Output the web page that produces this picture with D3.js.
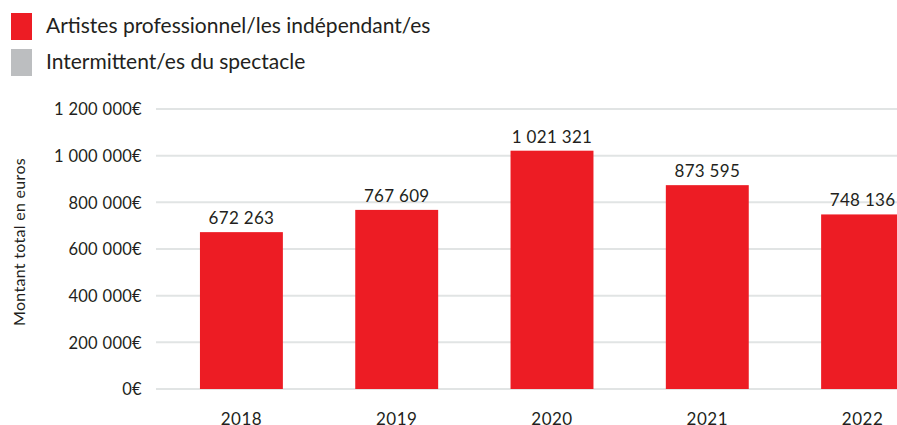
<!DOCTYPE html>
<html>
<head>
<meta charset="utf-8">
<title>Montant total</title>
<script src="https://d3js.org/d3.v7.min.js"></script>
<style>
  body { margin: 0; background: #fff; }
  text { font-family: "Lato", "Noto Sans", sans-serif; fill: #231f20; }
</style>
</head>
<body>
<svg width="897" height="425"></svg>
<script>
  // données
  var years = ["2018", "2019", "2020", "2021", "2022"];
  var artistes = [672263, 767609, 1021321, 873595, 748136];
  var yTicks = [0, 200000, 400000, 600000, 800000, 1000000, 1200000];
  var seriesNames = ["Artistes professionnel/les indépendant/es", "Intermittent/es du spectacle"];
  var seriesColors = ["#ed1c24", "#bcbec0"];

  var svg = d3.select("svg");

  var fmt = function (v) {
    return d3.format(",")(v).replace(/,/g, " ");
  };

  var y = d3.scaleLinear().domain([0, 1200000]).range([389, 109]);
  var x = d3.scaleBand().domain(years).range([156, 948])
    .paddingInner(0.466).paddingOuter(0.283);

  // grille
  svg.append("g").selectAll("line")
    .data(yTicks)
    .enter().append("line")
    .attr("x1", 156).attr("x2", 948)
    .attr("y1", function (d) { return y(d); })
    .attr("y2", function (d) { return y(d); })
    .style("stroke", "#e1e4e4")
    .style("stroke-width", 2);

  // axe y
  var yAxis = svg.append("g")
    .attr("transform", "translate(142,0)")
    .call(d3.axisLeft(y).tickValues(yTicks).tickSize(0).tickPadding(0)
      .tickFormat(function (d) { return fmt(d) + "€"; }));
  yAxis.select(".domain").remove();
  yAxis.selectAll("text").style("font-size", "16.5px").style("letter-spacing", "0.3px").attr("dy", "0.35em");

  // axe x
  var xAxis = svg.append("g")
    .attr("transform", "translate(0,389)")
    .call(d3.axisBottom(x).tickSize(0).tickPadding(0));
  xAxis.select(".domain").remove();
  xAxis.selectAll("text").style("font-size", "17px").style("letter-spacing", "0.5px").attr("y", 36).attr("dy", 0);

  // barres
  svg.append("g").selectAll("rect")
    .data(artistes)
    .enter().append("rect")
    .attr("x", function (d, i) { return x(years[i]); })
    .attr("y", function (d) { return y(d); })
    .attr("width", x.bandwidth())
    .attr("height", function (d) { return y(0) - y(d); })
    .attr("fill", seriesColors[0]);

  // étiquettes
  svg.append("g").selectAll("text")
    .data(artistes)
    .enter().append("text")
    .attr("x", function (d, i) { return x(years[i]) + x.bandwidth() / 2; })
    .attr("y", function (d) { return y(d) - 8; })
    .attr("text-anchor", "middle")
    .style("font-size", "17px")
    .style("letter-spacing", "0.3px")
    .text(function (d) { return fmt(d); });

  // titre axe y
  svg.append("text")
    .attr("transform", "translate(25,242) rotate(-90)")
    .attr("text-anchor", "middle")
    .style("font-size", "16px")
    .style("letter-spacing", "0.3px")
    .text("Montant total en euros");

  // légende
  var leg = svg.append("g").selectAll("g")
    .data(seriesNames)
    .enter().append("g")
    .attr("transform", function (d, i) { return "translate(11," + (13 + i * 36) + ")"; });
  leg.append("rect")
    .attr("width", 21).attr("height", 27)
    .attr("fill", function (d, i) { return seriesColors[i]; });
  leg.append("text")
    .attr("x", 35).attr("y", 20)
    .style("font-size", "21px")
    .text(function (d) { return d; });
</script>
</body>
</html>
